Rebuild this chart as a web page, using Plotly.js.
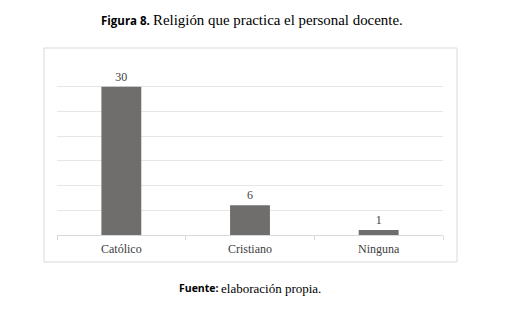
<!DOCTYPE html>
<html>
<head>
<meta charset="utf-8">
<script src="https://cdn.plot.ly/plotly-3.0.1.min.js"></script>
<style>html,body{margin:0;padding:0;background:#fff;}#chart{width:514px;height:311px;}</style>
</head>
<body>
<div id="chart"></div>
<script>
const categories = ["Católico", "Cristiano", "Ninguna"];
const values = [30, 6, 1];
const valueLabels = ["30", "6", "1"];
const yTickValues = [0, 5, 10, 15, 20, 25, 30, 35];

const serif = "Liberation Serif";
const sans = "Open Sans";

// plot area in pixels
const L = 57, R = 71, T = 62, B = 76, W = 514, H = 311;
const pw = W - L - R, ph = H - T - B;
const px = x => (x - L) / pw;
const py = y => (H - B - y) / ph;

const trace = {
  type: 'bar',
  x: categories,
  y: values,
  text: valueLabels,
  textposition: 'outside',
  textfont: {family: serif, size: 12, color: '#404040'},
  cliponaxis: false,
  marker: {color: '#6f6e6c'},
  width: 0.31,
  hoverinfo: 'none'
};

function note(text, x, y, anchor, family, size, bold) {
  return {
    xref: 'paper', yref: 'paper', x: px(x), y: py(y),
    xanchor: anchor, yanchor: 'middle', showarrow: false,
    borderpad: 0, borderwidth: 0,
    text: bold ? '<b>' + text + '</b>' : text,
    font: {family: family, size: size, color: '#000000'}
  };
}

const layout = {
  width: W, height: H,
  margin: {l: L, r: R, t: T, b: B, pad: 0},
  paper_bgcolor: '#ffffff',
  plot_bgcolor: '#ffffff',
  showlegend: false,
  xaxis: {
    showline: true, linecolor: '#d9d9d9', linewidth: 1,
    ticks: 'outside', tickson: 'boundaries', ticklen: 4, tickcolor: '#d9d9d9',
    ticklabelstandoff: 3,
    tickfont: {family: serif, size: 12, color: '#404040'},
    showgrid: false, zeroline: false, fixedrange: true
  },
  yaxis: {
    range: [0, 35],
    tickvals: yTickValues,
    showticklabels: false,
    showgrid: true, gridcolor: '#e6e6e6', gridwidth: 1,
    zeroline: false, showline: false, ticks: '', fixedrange: true
  },
  shapes: [{
    type: 'rect', xref: 'paper', yref: 'paper',
    x0: px(44), x1: px(457), y0: py(262), y1: py(48),
    line: {color: '#d9d9d9', width: 1}, fillcolor: 'rgba(0,0,0,0)', layer: 'below'
  }],
  annotations: [
    note('Figura 8.', 150, 20, 'right', sans, 11.5, true),
    note('Religión que practica el personal docente.', 153, 20, 'left', serif, 14.9, false),
    note('Fuente:', 219, 288, 'right', sans, 10.5, true),
    note('elaboración propia.', 221, 288, 'left', serif, 13, false)
  ]
};

Plotly.newPlot('chart', [trace], layout, {displayModeBar: false, staticPlot: true});
</script>
</body>
</html>
